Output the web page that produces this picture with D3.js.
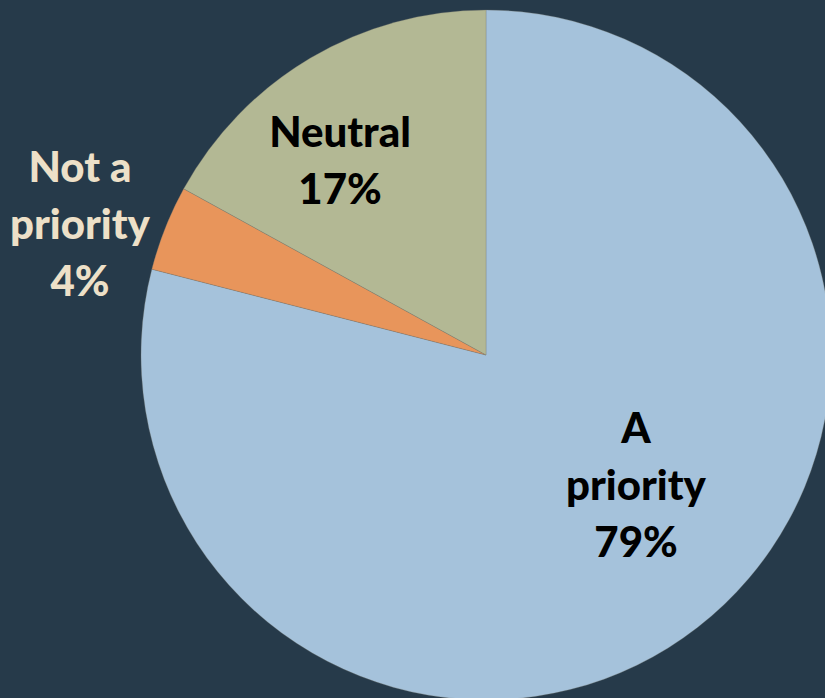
<!DOCTYPE html>
<html><head><meta charset="utf-8">
<script src="https://cdn.jsdelivr.net/npm/d3@7"></script>
<style>html,body{margin:0;padding:0;background:#263a4a;overflow:hidden}</style>
</head><body>
<script>
const categories = ["A priority", "Not a priority", "Neutral"];
const values = [79, 4, 17];
const colors = ["#a5c2db", "#e8955b", "#b3b894"];
const labelLines = [["A", "priority", "79%"], ["Not a", "priority", "4%"], ["Neutral", "17%"]];

const W = 825, H = 698;
const cx = 486, cy = 355, R = 345;
const svg = d3.select("body").append("svg").attr("width", W).attr("height", H);
svg.append("rect").attr("width", W).attr("height", H).attr("fill", "#263a4a");

const data = categories.map((c, i) => ({c, v: values[i], i}));
const pie = d3.pie().value(d => d.v).sort(null);
const arcs = pie(data);
const arc = d3.arc().innerRadius(0).outerRadius(R);
const g = svg.append("g").attr("transform", `translate(${cx},${cy})`);
g.selectAll("path").data(arcs).join("path")
  .attr("d", arc).attr("fill", d => colors[d.data.i])
  .attr("stroke", "#7a7a70").attr("stroke-width", 0.5).attr("stroke-opacity", 0.6);

// label positions (center of label block)
const labelPos = [[636, 485], [80, 224], [340, 160]];
const textColors = ["#000000", "#ede0c8", "#000000"];
const lineH = 57;
labelLines.forEach((lines, i) => {
  const [x, y] = labelPos[i];
  const t = svg.append("text").attr("text-anchor", "middle")
    .attr("font-family", "Lato, 'Open Sans', sans-serif").attr("font-weight", 900)
    .attr("font-size", 42).attr("fill", textColors[i]);
  const n = lines.length;
  lines.forEach((l, k) => {
    t.append("tspan").attr("x", x)
      .attr("y", y + (k - (n - 1) / 2) * lineH + 15).text(l);
  });
});
</script>
</body></html>
